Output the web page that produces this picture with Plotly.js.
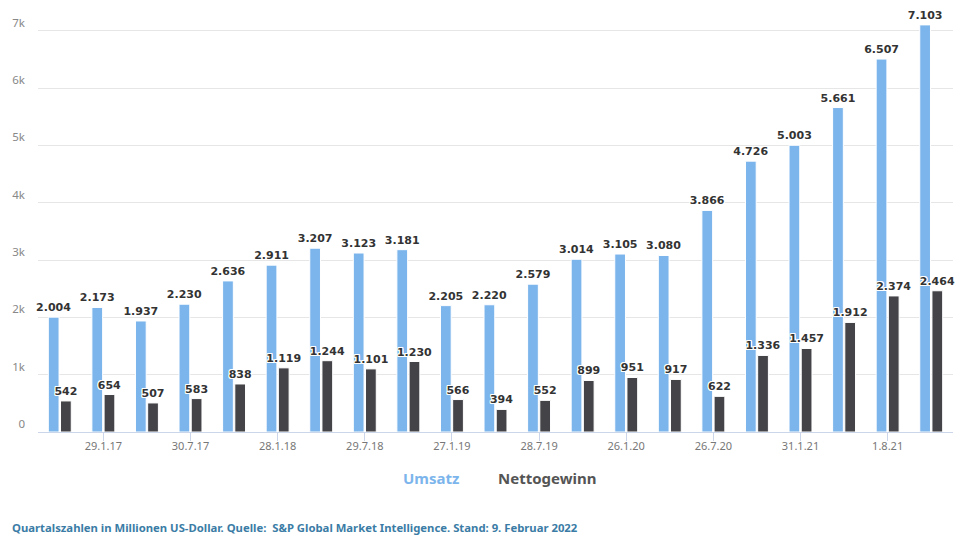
<!DOCTYPE html>
<html>
<head>
<meta charset="utf-8">
<script src="https://cdn.plot.ly/plotly-3.0.1.min.js"></script>
<style>
  html, body { margin: 0; padding: 0; background: #fff; }
  #chart { width: 961px; height: 540px; }
</style>
</head>
<body>
<div id="chart"></div>
<script>
// Quarter-end dates (fiscal quarters)
const quarters = [
  "30.10.16", "29.1.17", "30.4.17", "30.7.17", "29.10.17", "28.1.18", "29.4.18",
  "29.7.18", "28.10.18", "27.1.19", "28.4.19", "28.7.19", "27.10.19", "26.1.20",
  "26.4.20", "26.7.20", "25.10.20", "31.1.21", "2.5.21", "1.8.21", "31.10.21"
];
// Revenue in millions of US dollars
const umsatz = [
  2004, 2173, 1937, 2230, 2636, 2911, 3207, 3123, 3181, 2205, 2220,
  2579, 3014, 3105, 3080, 3866, 4726, 5003, 5661, 6507, 7103
];
// Net income in millions of US dollars
const nettogewinn = [
  542, 654, 507, 583, 838, 1119, 1244, 1101, 1230, 566, 394,
  552, 899, 951, 917, 622, 1336, 1457, 1912, 2374, 2464
];
// Labelled quarters on the x axis
const xTickLabels = ["29.1.17", "30.7.17", "28.1.18", "29.7.18", "27.1.19",
                     "28.7.19", "26.1.20", "26.7.20", "31.1.21", "1.8.21"];
const yTickValues = [0, 1000, 2000, 3000, 4000, 5000, 6000, 7000];
const yTickLabels = ["0", "1k", "2k", "3k", "4k", "5k", "6k", "7k"];

const blue = "#7cb5ec";
const dark = "#434348";
const labelShadow = "white 1px 0px 0px, white -1px 0px 0px, white 0px 1px 0px, white 0px -1px 0px, white 1px 1px 0px, white -1px -1px 0px, white 1px -1px 0px, white -1px 1px 0px";

function barTrace(name, values, color) {
  return {
    type: "bar",
    name: name,
    x: quarters,
    y: values,
    marker: { color: color, line: { color: "#ffffff", width: 1 } },
    texttemplate: "%{y:,}",
    textposition: "outside",
    constraintext: "none",
    cliponaxis: false,
    textfont: {
      family: "DejaVu Sans, sans-serif",
      size: 11,
      color: "#333333",
      weight: "bold",
      shadow: labelShadow
    },
    hoverinfo: "x+y+name"
  };
}

const data = [
  barTrace("Umsatz", umsatz, blue),
  barTrace("Nettogewinn", nettogewinn, dark)
];

const layout = {
  width: 961,
  height: 540,
  margin: { l: 38, r: 8, t: 5, b: 108 },
  paper_bgcolor: "#ffffff",
  plot_bgcolor: "#ffffff",
  separators: ",.",
  barmode: "group",
  bargap: 0.44,
  bargroupgap: 0.12,
  showlegend: false,
  font: { family: "Noto Sans, sans-serif", color: "#666666", size: 11 },
  xaxis: {
    type: "category",
    categoryorder: "array",
    categoryarray: quarters,
    tickmode: "array",
    tickvals: xTickLabels,
    ticktext: xTickLabels,
    ticks: "outside",
    ticklen: 8,
    ticklabelstandoff: -4,
    tickcolor: "#ccd6eb",
    tickwidth: 1,
    showline: true,
    linecolor: "#ccd6eb",
    linewidth: 1,
    showgrid: false,
    tickfont: { family: "Noto Sans, sans-serif", size: 11, color: "#777777" },
    fixedrange: true
  },
  yaxis: {
    range: [0, 7450],
    tickmode: "array",
    tickvals: yTickValues,
    ticktext: yTickLabels,
    ticklabelposition: "outside top",
    ticklabelstandoff: 12,
    showgrid: true,
    gridcolor: "#e6e6e6",
    gridwidth: 1,
    zeroline: false,
    showline: false,
    ticks: "",
    tickfont: { family: "Noto Sans, sans-serif", size: 11.5, color: "#888888" },
    fixedrange: true
  },
  annotations: [
    {
      text: "Umsatz", xref: "paper", yref: "paper", x: 0, y: 0,
      xanchor: "center", yanchor: "middle",
      showarrow: false, font: { family: "Noto Sans, sans-serif", size: 15, color: blue, weight: "bold" }
    },
    {
      text: "Nettogewinn", xref: "paper", yref: "paper", x: 0, y: 0,
      xanchor: "center", yanchor: "middle",
      showarrow: false, font: { family: "Noto Sans, sans-serif", size: 15, color: "#555555", weight: "bold" }
    },
    {
      text: "Quartalszahlen in Millionen US-Dollar. Quelle:  S&amp;P Global Market Intelligence. Stand: 9. Februar 2022",
      xref: "paper", yref: "paper", x: 0, y: 0, xanchor: "left", yanchor: "middle",
      showarrow: false, font: { family: "Noto Sans, sans-serif", size: 11.3, color: "#3a7ca5", weight: "bold" }
    }
  ]
};

// Place the legend captions and footer in pixel terms relative to the plot area
const plotW = 961 - layout.margin.l - layout.margin.r;
const plotH = 540 - layout.margin.t - layout.margin.b;
function px(xPix) { return (xPix - layout.margin.l) / plotW; }
function py(yPix) { return (540 - layout.margin.b - yPix) / plotH; }
layout.annotations[0].x = px(431); layout.annotations[0].y = py(478);
layout.annotations[1].x = px(547); layout.annotations[1].y = py(478);
layout.annotations[2].x = px(10);  layout.annotations[2].y = py(527);

Plotly.newPlot("chart", data, layout, { displayModeBar: false });
</script>
</body>
</html>
